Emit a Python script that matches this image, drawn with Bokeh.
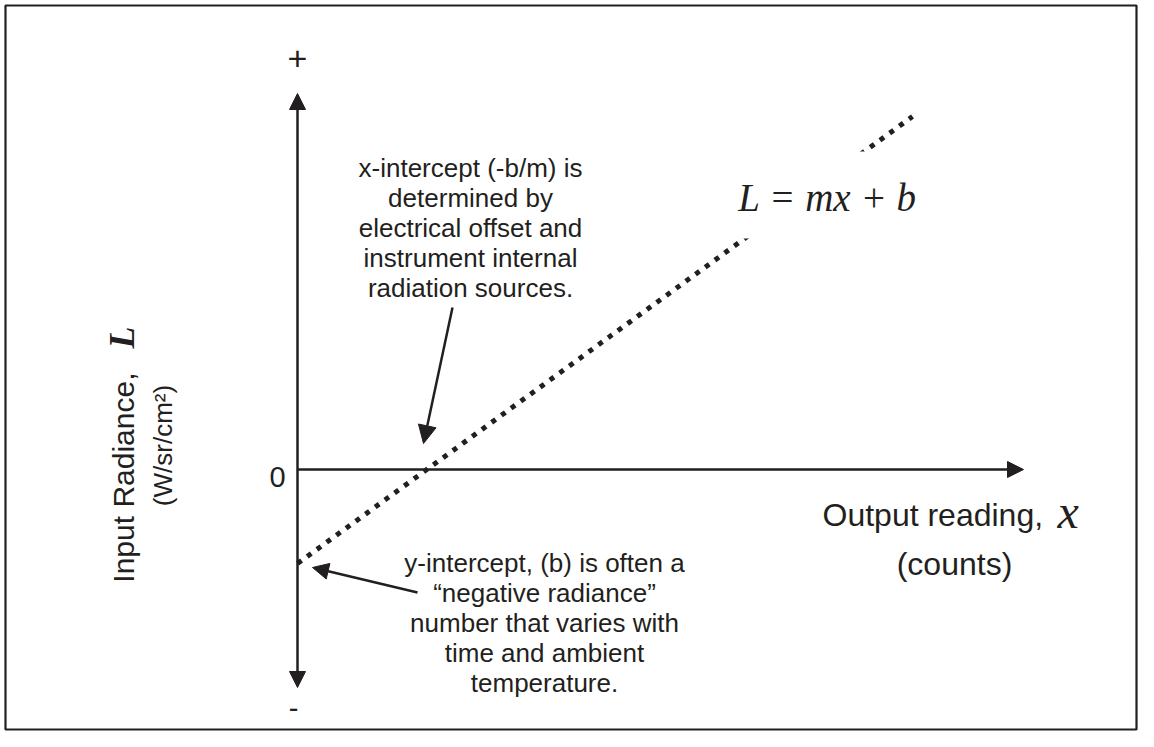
import math
from bokeh.plotting import figure
from bokeh.models import Range1d, Arrow, NormalHead, Label
from bokeh.embed import file_html
from bokeh.resources import INLINE

INK = "#231f20"
SANS = "Liberation Sans"
SERIF = "Liberation Serif"

# ---- diagram data (origin = where the two axes cross) ----
# calibration line  L = m x + b, drawn dotted
line_x = [0, 615]
line_L = [-94, 353]

# axis extents
y_axis_span = [-218, 376]     # bottom tip, top tip
x_axis_span = [0, 726]        # origin, right tip

x_int_lines = ["x-intercept (-b/m) is", "determined by", "electrical offset and",
               "instrument internal", "radiation sources."]
y_int_lines = ["y-intercept, (b) is often a", "\u201cnegative radiance\u201d",
               "number that varies with", "time and ambient", "temperature."]

p = figure(width=1138, height=731, x_range=Range1d(-297, 841), y_range=Range1d(-262, 469),
           output_backend="svg", toolbar_location=None, min_border=0,
           x_axis_location=None, y_axis_location=None)
p.grid.visible = False
p.background_fill_color = "white"
p.border_fill_color = "white"
p.outline_line_color = None

# frame box
p.quad(left=-292, right=839, bottom=-260, top=464, fill_color=None,
       line_color=INK, line_width=2.2)

# dotted calibration line
p.line(line_x, line_L, line_color=INK, line_width=5, line_dash="5 7", line_cap="butt")

# white box behind the equation (interrupts the dotted line)
eq_x, eq_y = 530, 272
p.quad(left=eq_x - 100, right=eq_x + 100, bottom=eq_y - 41, top=eq_y + 46,
       fill_color="white", line_color=None)

# axes with arrow heads
p.add_layout(Arrow(start=NormalHead(size=16, fill_color=INK, line_color=INK, line_width=1),
                   end=NormalHead(size=16, fill_color=INK, line_color=INK, line_width=1),
                   x_start=0, y_start=y_axis_span[0], x_end=0, y_end=y_axis_span[1],
                   line_color=INK, line_width=2.5))
p.add_layout(Arrow(end=NormalHead(size=16, fill_color=INK, line_color=INK, line_width=1),
                   x_start=x_axis_span[0], y_start=0, x_end=x_axis_span[1], y_end=0,
                   line_color=INK, line_width=2.5))

# annotation arrows
p.add_layout(Arrow(end=NormalHead(size=18, fill_color=INK, line_color=INK, line_width=1),
                   x_start=155, y_start=162, x_end=126, y_end=26,
                   line_color=INK, line_width=2.5))
p.add_layout(Arrow(end=NormalHead(size=16, fill_color=INK, line_color=INK, line_width=1),
                   x_start=120, y_start=-123, x_end=15, y_end=-98,
                   line_color=INK, line_width=2.5))

def lab(x, y, text, size, font=SANS, style="normal", align="center", baseline="middle", angle=0):
    p.add_layout(Label(x=x, y=y, text=text, text_font=font, text_font_size=f"{size}px",
                       text_font_style=style, text_color=INK, text_align=align,
                       text_baseline=baseline, angle=angle))

# axis sign labels
lab(0, 411, "+", 34)
lab(-4, -238, "-", 29)
lab(-20, -7, "0", 29)

# annotation texts
for i, t in enumerate(x_int_lines):
    lab(173, 302 - 30 * i, t, 26)
for i, t in enumerate(y_int_lines):
    lab(247, -93 - 30 * i, t, 26)

# equation
lab(eq_x, eq_y, "L = mx + b", 39, font=SERIF, style="italic")

# x axis title
lab(525, -45, "Output reading,", 32, align="left")
lab(760, -42, "x", 48, font=SERIF, style="italic", align="left")
lab(657, -94, "(counts)", 32)

# y axis title (rotated)
lab(-174, 97, "Input Radiance,", 30, align="right", angle=math.pi / 2)
lab(-176, 121, "L", 36, font=SERIF, style="bold italic", align="left", angle=math.pi / 2)
lab(-135, 24, "(W/sr/cm\u00b2)", 26, angle=math.pi / 2)

open("out.html", "w").write(file_html(p, INLINE))
